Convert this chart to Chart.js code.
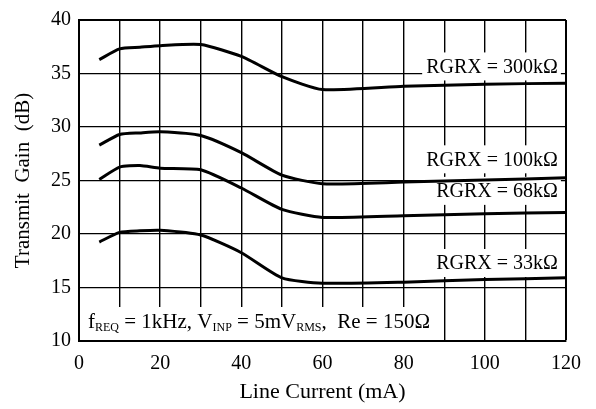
<!DOCTYPE html>
<html>
<head>
<meta charset="utf-8">
<script src="https://cdn.jsdelivr.net/npm/chart.js@4.4.1/dist/chart.umd.min.js"></script>
<style>
  html, body { margin: 0; padding: 0; background: #fff; }
  #wrap { width: 596px; height: 409px; }
</style>
</head>
<body>
<div id="wrap"><canvas id="gain-chart" width="596" height="409"></canvas></div>
<script>
// ------------------------------------------------------
// data
// ------------------------------------------------------
const lineCurrent = [5, 10, 15, 20, 30, 40, 50, 60, 80, 100, 120];
const gain300k = [36.3, 37.3, 37.45, 37.6, 37.7, 36.6, 34.7, 33.5, 33.8, 34.0, 34.1];
const gain100k = [28.3, 29.3, 29.45, 29.55, 29.2, 27.6, 25.5, 24.7, 24.85, 25.05, 25.25];
const gain68k = [25.1, 26.25, 26.4, 26.15, 26.0, 24.3, 22.3, 21.55, 21.7, 21.9, 22.0];
const gain33k = [19.25, 20.15, 20.3, 20.35, 19.9, 18.25, 15.9, 15.4, 15.5, 15.75, 15.9];

const curveLabels = ['RGRX = 300kΩ', 'RGRX = 100kΩ', 'RGRX = 68kΩ', 'RGRX = 33kΩ'];
// label anchor (right edge x, centre y) in data units
const labelX = [118, 118, 118, 118];
const labelY = [35.66, 26.98, 24.03, 17.29];

const FONT = "'Liberation Serif', 'Times New Roman', serif";

function toPoints(ys) {
    return lineCurrent.map((x, i) => ({ x: x, y: ys[i] }));
}

function curve(ys) {
    return {
        data: toPoints(ys),
        borderColor: '#000',
        borderWidth: 3,
        pointRadius: 0,
        tension: 0.2,
        fill: false
    };
}

// white boxes + texts, drawn over the grid but under the curves
const notesPlugin = {
    id: 'notes',
    beforeDatasetsDraw(chart) {
        const ctx = chart.ctx;
        const xs = chart.scales.x, ys = chart.scales.y;
        ctx.save();
        ctx.font = '20px ' + FONT;
        ctx.textAlign = 'right';
        ctx.textBaseline = 'middle';
        curveLabels.forEach((t, i) => {
            const px = xs.getPixelForValue(labelX[i]);
            const py = ys.getPixelForValue(labelY[i]);
            const w = ctx.measureText(t).width;
            ctx.fillStyle = '#fff';
            ctx.fillRect(px - w - 4, py - 14, w + 7, 28);
            ctx.fillStyle = '#000';
            ctx.fillText(t, px, py + 1);
        });

        // conditions note at the bottom left
        const area = chart.chartArea;
        ctx.fillStyle = '#fff';
        ctx.fillRect(area.left + 2, area.bottom - 34, 359, 33);
        const parts = [
            ['f', 0], ['REQ', 1], [' = 1kHz, V', 0], ['INP', 1], [' = 5mV', 0],
            ['RMS', 1], [',  Re = 150Ω', 0]
        ];
        let cx = area.left + 9;
        const base = area.bottom - 13;
        ctx.textAlign = 'left';
        ctx.textBaseline = 'alphabetic';
        ctx.fillStyle = '#000';
        parts.forEach(p => {
            ctx.font = (p[1] ? '12px ' : '21px ') + FONT;
            ctx.fillText(p[0], cx, p[1] ? base + 3 : base);
            cx += ctx.measureText(p[0]).width;
        });
        ctx.restore();
    }
};

let gainBox = document.getElementById('gain-chart');

new Chart(gainBox.getContext('2d'), {
    type: 'line',
    data: {
        datasets: [curve(gain300k), curve(gain100k), curve(gain68k), curve(gain33k)]
    },
    options: {
        responsive: false,
        animation: false,
        layout: { padding: { top: 16, right: 30, left: 0, bottom: 0 } },
        plugins: {
            legend: { display: false },
            tooltip: { enabled: false }
        },
        scales: {
            x: {
                type: 'linear',
                min: 0,
                max: 120,
                afterFit: s => { s.height = 68; },
                ticks: {
                    stepSize: 10,
                    padding: 11,
                    color: '#000',
                    font: { family: FONT, size: 20 },
                    maxRotation: 0,
                    autoSkip: false,
                    callback: v => (v % 20 === 0 ? v : '')
                },
                grid: {
                    color: '#000',
                    lineWidth: c => (c.index === 12 ? 2 : 1.4),
                    drawTicks: false
                },
                border: { color: '#000', width: 2 },
                title: {
                    display: true,
                    text: 'Line Current (mA)',
                    color: '#000',
                    font: { family: FONT, size: 22 },
                    padding: { top: 0, bottom: 4 }
                }
            },
            y: {
                min: 10,
                max: 40,
                afterFit: s => { s.width = 79; },
                ticks: {
                    stepSize: 5,
                    padding: 8,
                    color: '#000',
                    font: { family: FONT, size: 20 }
                },
                grid: {
                    color: '#000',
                    lineWidth: c => (c.index === 6 ? 2 : 1.2),
                    drawTicks: false
                },
                border: { color: '#000', width: 2 },
                title: {
                    display: true,
                    text: 'Transmit  Gain  (dB)',
                    color: '#000',
                    font: { family: FONT, size: 21 },
                    padding: { top: 11, bottom: 0 }
                }
            }
        }
    },
    plugins: [notesPlugin]
});
</script>
</body>
</html>
